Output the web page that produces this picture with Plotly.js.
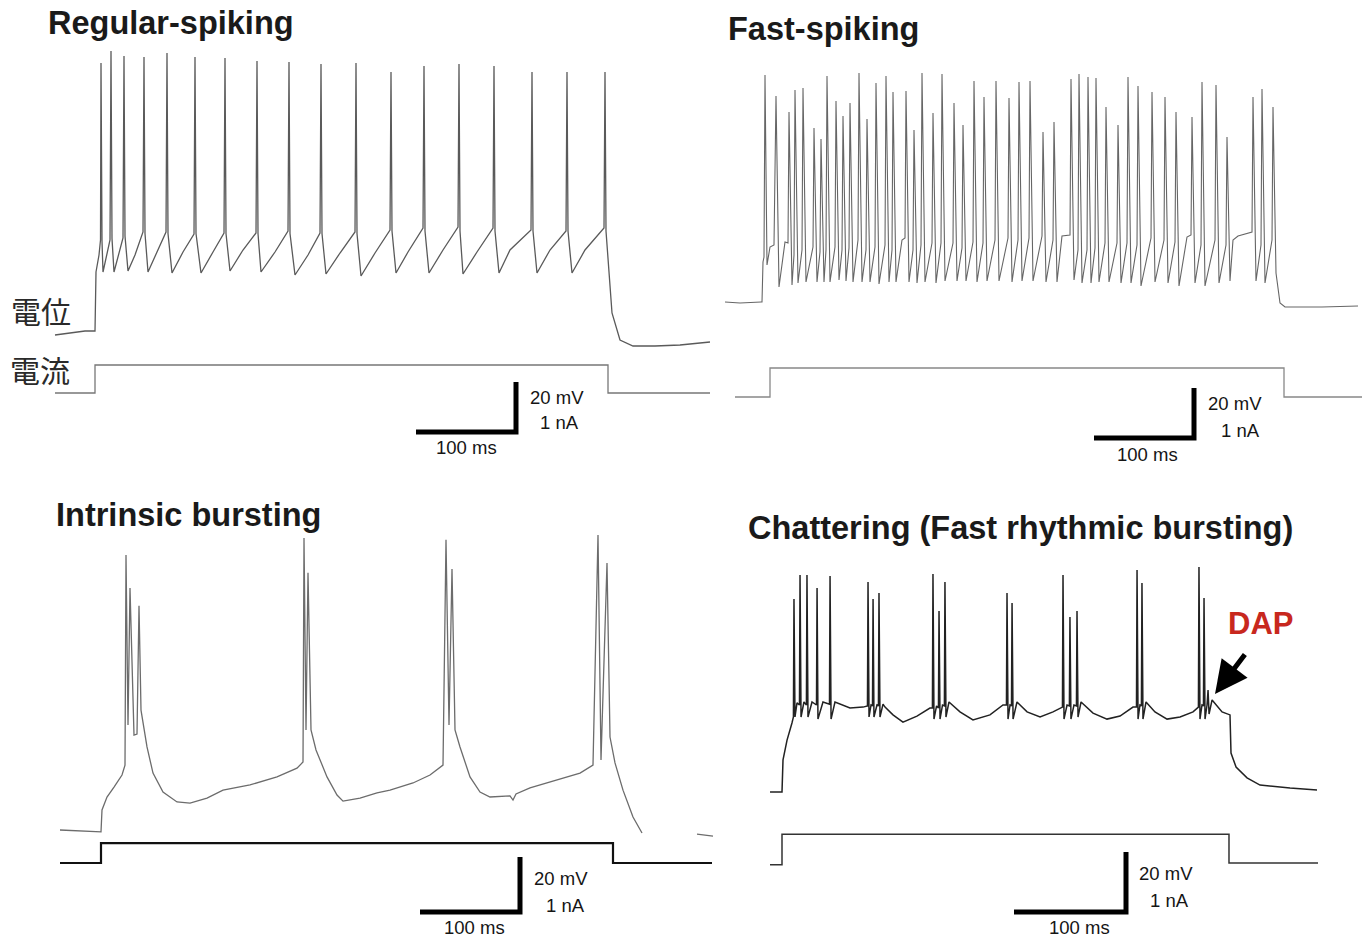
<!DOCTYPE html>
<html>
<head>
<meta charset="utf-8">
<script src="https://cdn.plot.ly/plotly-3.0.1.min.js"></script>
<style>html,body{margin:0;padding:0;background:#fff;}#chart{width:1367px;height:939px;}</style>
</head>
<body>
<div id="chart"></div>
<script>
// ---------------- DATA (time in ms from stimulus onset, voltage in mV, current in nA) ----------------
// Regular-spiking
const rsT = [-40,-25,-10,-1,0,1,4,5.5,6,7,8,15,16,17,19,28,29,30,33,40,48,49,50,53,62,71,72,73,77,88,99,100,101,106,118,129,130,131,135,148,161,162,163,166,180,193,194,195,200,213,225,226,227,231,245,260,261,262,266,280,295,296,297,301,313,328,329,330,334,348,363,364,365,368,382,398,399,400,404,415,436,437,438,442,455,471,472,473,477,490,509,510,511,513,517,525,538,560,585,615];
const rsV = [-71.6,-70.8,-70,-70,-70,-46.4,-39.6,-33.6,37.2,-34,-46.4,-33.6,42,-33,-46.4,-32.8,40,-32,-46,-39.6,-30.4,39.6,-31,-46.4,-38.4,-30.4,41.2,-31,-46.8,-38.4,-31.2,39.6,-31,-46.8,-38.4,-30.8,39.2,-31,-46,-37.6,-30.8,38,-31,-46.4,-38.4,-30,37.6,-31,-47.6,-39.6,-30.8,36.8,-31,-47.2,-38.8,-30.4,37.2,-31,-48,-38.8,-29.6,33.6,-30,-46.8,-38.4,-28.8,36,-30,-46.8,-37.6,-28.4,36.8,-30,-47.2,-38.4,-28.8,36,-30,-46.8,-37.6,-29.6,33.6,-30,-46.8,-37.6,-30,33.6,-30,-46.8,-37.6,-28.8,33.6,-30,-40.4,-62.8,-73.6,-76,-76,-75.6,-74.4];
const rsIT = [-40,0,0,513,513,615];
const rsI  = [0,0,0.56,0.56,0,0];

// Fast-spiking
const fsT = [-37,-22,-1,0,1,2,
 3,5,8,12, 14,17,23,26, 27,30,32, 33,36,40, 41,44,51, 52,55,58, 59,62,64, 65,68,73, 74,77,80, 81,84,87,
 88,91,96, 97,100,104, 105,108,113, 114,117,123, 124,127,130, 131,134,140,143, 144,147,151, 152,155,159,
 160,163,170, 171,174,179, 180,183,191, 192,195,200, 201,204,211, 212,215,221, 222,225,233, 234,237,246,
 247,250,256, 257,260,267, 268,271,280, 281,284,291, 292,295,300,308, 309,312,316, 317,320,325, 326,329,333,
 334,337,343, 344,347,355, 356,359,365, 366,369,375, 376,379,389, 390,393,402, 403,406,413, 414,417,425,429,
 430,433,439, 440,443,453, 454,457,464, 465,468,471,476,490, 491,494,499, 500,503,510,
 511,514,516,518,523,560,596];
const fsV = [-70,-70.4,-70,-70,-54,-52,
 20.8,-55.2,-48,-47.2, 12.4,-64,-46,-46.4, 6,-63.2,-51.2, 14.8,-62.4,-49.2, 15.6,-62,-48, -0.4,-62,-50, -4.8,-62,-49.2, 20.4,-62,-48, 10.4,-61.2,-49.2, 4.4,-61.6,-48.4,
 9.6,-62,-45.2, 21.6,-62,-49.2, 3.2,-62,-48, 17.6,-62.8,-47.2, 20.4,-62,-49.2, 14,-62,-45.2,-44.4, 14.4,-62,-49.2, -1.2,-62.4,-47.2,
 21.6,-62,-46.4, 5.6,-62.4,-46.4, 21.2,-61.6,-46.4, 9.6,-61.6,-48.4, 0.8,-61.6,-46, 18.4,-62,-46.4, 12,-61.6,-45.2, 18.4,-61.6,-44.4,
 11.6,-62,-45.2, 18,-61.6,-44.4, 18.4,-61.6,-43.6, -2,-62,-45.2, 2,-62,-43.6,-43.2, 19.2,-61.2,-49.2, 21.2,-62.4,-49.2, 20,-62.4,-48.4,
 19.6,-62,-46.4, 8,-62,-46.4, 0.8,-62.4,-46.4, 20,-62.4,-47.2, 16.4,-63.6,-44.4, 14,-62,-45.2, 12,-62.4,-46, 6,-63.6,-44,-43.2,
 4,-62.4,-47.2, 18,-63.6,-45.2, 16.8,-62.4,-47.2, -4,-61.6,-45.2,-43.6,-42, 12,-61.6,-47.2, 15.2,-62.4,-45.2,
 8,-58.4,-65.2,-70.4,-72,-72,-71.6];
const fsIT = [-27,8,8,522,522,600];
const fsI  = [0,0,0.58,0.58,0,0];

// Intrinsic bursting
const ibT = [-41,-21,-1,0,1,6,13,21,24,
 25,27,29,33,36,38,40,46,52,62,76,89,106,122,149,176,196,202,
 203,205,207,210,215,226,236,242,259,276,289,312,329,342,
 345,348,351,354,359,369,379,389,409,412,415,429,456,479,492,
 497,500,506,509,514,522,532,541,null,596,612];
const ibV = [-70,-70.4,-70.7,-70.7,-62.7,-58,-54.4,-50,-46.4,
 30,-31.8,18,-35.5,-35.1,11.5,-26.4,-39.8,-49.3,-56.2,-59.8,-60.2,-58.4,-55.5,-53.6,-50.7,-47.5,-45.3,
 36.2,-33.6,23.5,-33.6,-40.9,-50.7,-57.3,-59.5,-58.4,-56.5,-55.5,-52.9,-50,-46.4,
 35.5,-31.8,24.9,-33.6,-39.8,-50.7,-56.2,-58,-57.6,-59.1,-56.9,-54.7,-51.8,-49.3,-46.4,
 37.3,-44.5,27.1,-36.2,-45.6,-55.5,-65.3,-71.1,null,-71.5,-72.2];
const ibIT = [-41,0,0,512,512,611];
const ibI  = [0,0,0.36,0.36,0,0];

// Chattering (fast rhythmic bursting)
const chT = [-10.7,-0.9,0,0.9,4.5,8.9,10.2,
 10.7,11.6,13.4,15.6, 16.1,17,19.6,21.8, 22.3,23.2,26.8,30.8, 31.3,32.1,36.6,42.4,
 42.9,43.8,47.3,49.1,60.7,72.3,76.3,
 76.8,77.7,79.5,80.8, 81.3,82.1,84.8,86.1, 86.6,87.5,90.2,92,99.1,108,120.5,132.1,134.3,
 134.8,135.7,138,139.7, 140.2,141.1,143.3,145, 145.5,146.4,149.1,158.9,170.5,185.7,197.3,200.4,
 200.9,201.8,203.6,204.9, 205.4,206.3,209.8,218.8,230.4,242,250.4,
 250.9,251.8,254.5,256.6, 257.1,258,260.7,262.9, 263.4,264.3,267,277.7,290.2,301.8,313.4,316.5,
 317,317.9,319.6,320.9, 321.4,322.3,325,333,343.8,355.4,367,371.8,
 372.3,373.2,375,376.3, 376.8,377.7,379.5,380.4,381.3,384,392.9,400,400.9,405.4,415.2,426.8,453.6,477.7];
const chV = [-70,-70,-70,-59.3,-52.7,-47,-45,
 -5.7,-45,-40.3,-41, 2.3,-45,-40,-41, 2.3,-45,-40,-41, -2,-45.7,-40,-40.7,
 2,-45.7,-40,-40.3,-42,-41.7,-41.3,
 0,-45,-41,-41.3, -5.7,-45,-41,-41.3, -3.7,-45,-40.7,-41.7,-44.3,-46.7,-44.7,-42,-42,
 2.7,-45.7,-41.3,-42, -9.7,-45.7,-41,-41.3, 0,-45,-40,-43.3,-46,-44.3,-41,-41,
 -3.7,-45.7,-41,-41.3, -7,-45.7,-40,-43.3,-45,-43.3,-41.7,
 2.3,-45.7,-41,-41.3, -11.7,-45.7,-41,-41.3, -9.7,-45,-40,-43.7,-45.7,-44.7,-41.7,-41.7,
 4,-45.7,-41,-41.3, -0.3,-45.7,-40,-43.3,-45.7,-45,-43.3,-41.7,
 5,-45.7,-41,-41.3, -5.3,-45.7,-41,-36,-44,-39.3,-43.3,-44.3,-57,-61.7,-65.3,-67.7,-68.7,-69.3];
const chIT = [-10.7,0,0,399.1,399.1,478.6];
const chI  = [-0.03,-0.03,0.48,0.48,0,0];

const titles = ["Regular-spiking","Fast-spiking","Intrinsic bursting","Chattering (Fast rhythmic bursting)"];
const barLabels = ["20 mV","1 nA","100 ms"];
const barMs = 100, barMv = 20;
const sideLabels = ["電位","電流"];
const dapLabel = "DAP";

// ---------------- LAYOUT / CALIBRATION ----------------
const W = 1367, H = 939;
// box: [left,right,top,bottom] px; x: [px, ms, px/ms]; v: [py, mV, px/mV]; i: [py, nA, px/nA]
const panels = [
  {box:[0,715,40,460],    x:[95,0,1],     v:[331,-70,2.5],  i:[393,0,50], bar:[516,432],
   T:rsT, V:rsV, IT:rsIT, I:rsI, vc:'#5a5a5a', vw:1.3, ic:'#777', iw:1.3,
   title:[46,23], lab:[[557,397],[559,423],[466,447]]},
  {box:[715,1367,40,470], x:[762,0,1],    v:[302,-70,2.5],  i:[397,0,50], bar:[1194,438],
   T:fsT, V:fsV, IT:fsIT, I:fsI, vc:'#666', vw:1.1, ic:'#888', iw:1.3,
   title:[726,29], lab:[[1235,403],[1240,430],[1147,454]]},
  {box:[0,720,520,939],   x:[101,0,1],    v:[830,-70,2.75], i:[863,0,55], bar:[520,912],
   T:ibT, V:ibV, IT:ibIT, I:ibI, vc:'#6c6c6c', vw:1.3, ic:'#111', iw:2.2,
   title:[54,515], lab:[[561,878],[565,905],[474,927]]},
  {box:[730,1367,540,939],x:[782,0,1.12], v:[792,-70,3],    i:[863,0,60], bar:[1126,912],
   T:chT, V:chV, IT:chIT, I:chI, vc:'#222', vw:1.5, ic:'#333', iw:1.5,
   title:[746,528], lab:[[1166,873],[1169,900],[1079,927]]}
];

const tOf = (p,px) => p.x[1] + (px - p.x[0]) / p.x[2];
const vOf = (p,py) => p.v[1] + (p.v[0] - py) / p.v[2];
const iOf = (p,py) => p.i[1] + (p.i[0] - py) / p.i[2];

const traces = [];
const layout = {
  width: W, height: H, margin:{l:0,r:0,t:0,b:0},
  paper_bgcolor:'#fff', plot_bgcolor:'rgba(0,0,0,0)',
  showlegend:false, annotations:[],
  font:{family:'Liberation Sans, Arial, sans-serif', color:'#222'}
};

panels.forEach((p,k) => {
  const n = k + 1;
  const xn = n === 1 ? 'x' : 'x' + n;
  const vyIdx = 2*n - 1, iyIdx = 2*n;
  const vyn = vyIdx === 1 ? 'y' : 'y' + vyIdx;
  const iyn = 'y' + iyIdx;
  const [l,r,t,b] = p.box;
  layout['xaxis' + (n === 1 ? '' : n)] = {domain:[l/W, r/W], range:[tOf(p,l), tOf(p,r)], visible:false, fixedrange:true, anchor:vyn};
  layout['yaxis' + (vyIdx === 1 ? '' : vyIdx)] = {domain:[1-b/H, 1-t/H], range:[vOf(p,b), vOf(p,t)], visible:false, fixedrange:true, anchor:xn};
  layout['yaxis' + iyIdx] = {overlaying:vyn, range:[iOf(p,b), iOf(p,t)], visible:false, fixedrange:true, anchor:xn};

  traces.push({type:'scatter', mode:'lines', x:p.T, y:p.V, xaxis:xn, yaxis:vyn,
    line:{color:p.vc, width:p.vw}, hoverinfo:'skip', connectgaps:false});
  traces.push({type:'scatter', mode:'lines', x:p.IT, y:p.I, xaxis:xn, yaxis:iyn,
    line:{color:p.ic, width:p.iw}, hoverinfo:'skip'});
  // scale bar (100 ms x 20 mV)
  const tc = tOf(p, p.bar[0]), vc = vOf(p, p.bar[1]);
  traces.push({type:'scatter', mode:'lines', x:[tc - barMs, tc, tc], y:[vc, vc, vc + barMv], xaxis:xn, yaxis:vyn,
    line:{color:'#000', width:5}, hoverinfo:'skip'});
  p.lab.forEach((pos,j) => layout.annotations.push({
    xref:'paper', yref:'paper', x:pos[0]/W, y:1-pos[1]/H, xanchor:'center', yanchor:'middle',
    text:barLabels[j], showarrow:false, font:{size:18.5, color:'#151515', family:'Liberation Sans, Arial, sans-serif'}}));
  layout.annotations.push({xref:'paper', yref:'paper', x:p.title[0]/W, y:1-p.title[1]/H, xanchor:'left', yanchor:'middle',
    text:'<b>' + titles[k] + '</b>', showarrow:false, font:{size:32.5, color:'#1a1a1a', family:'Liberation Sans, Arial, sans-serif'}});
});

// side labels
layout.annotations.push({xref:'paper', yref:'paper', x:41/W, y:1-310/H, xanchor:'center', yanchor:'middle',
  text:sideLabels[0], showarrow:false, font:{size:30, color:'#2a2a2a', family:'Noto Sans CJK JP'}});
layout.annotations.push({xref:'paper', yref:'paper', x:40/W, y:1-369/H, xanchor:'center', yanchor:'middle',
  text:sideLabels[1], showarrow:false, font:{size:30, color:'#2a2a2a', family:'Noto Sans CJK JP'}});
// DAP label + arrow
layout.annotations.push({xref:'paper', yref:'paper', x:1260/W, y:1-623/H, xanchor:'center', yanchor:'middle',
  text:'<b>' + dapLabel + '</b>', showarrow:false, font:{size:31, color:'#c8281e', family:'Liberation Sans, Arial, sans-serif'}});
layout.annotations.push({xref:'paper', yref:'paper', x:1215/W, y:1-694/H, text:'', showarrow:true,
  ax:31, ay:-41, arrowcolor:'#000', arrowwidth:5, arrowhead:2, arrowsize:1.3, standoff:0});

Plotly.newPlot('chart', traces, layout, {staticPlot:true, displayModeBar:false});
</script>
</body>
</html>
